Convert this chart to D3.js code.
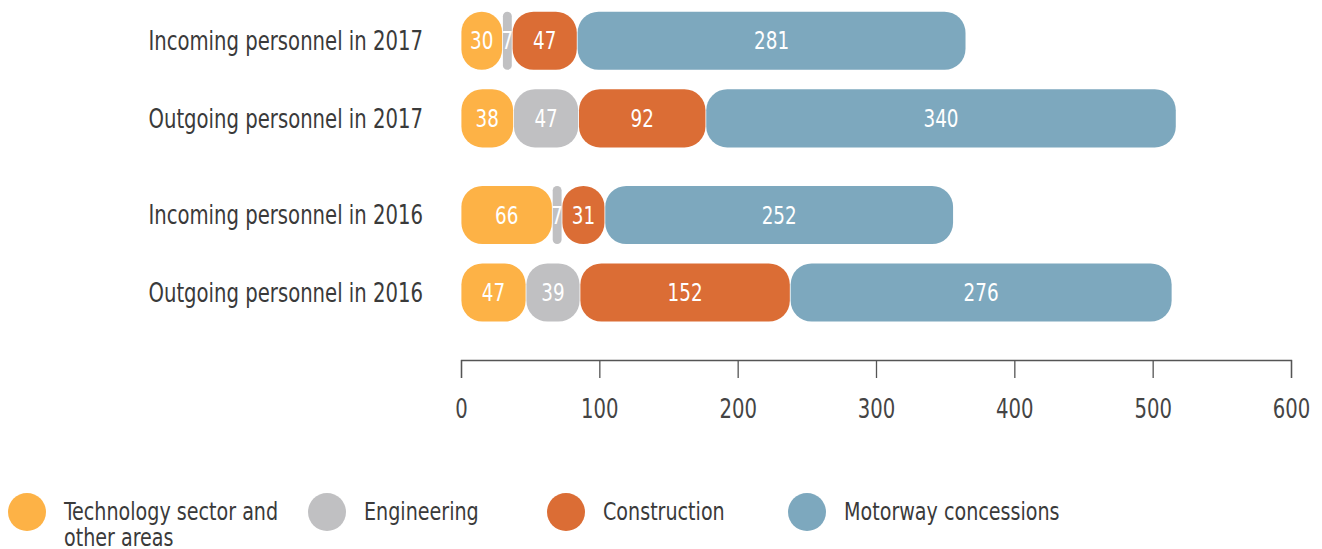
<!DOCTYPE html>
<html>
<head>
<meta charset="utf-8">
<script src="https://cdn.jsdelivr.net/npm/d3@7"></script>
<style>
  html, body { margin: 0; padding: 0; background: #ffffff; }
  svg { display: block; font-family: "DejaVu Sans Condensed", "DejaVu Sans", sans-serif; }
</style>
</head>
<body>
<svg id="chart" width="1322" height="549"></svg>
<script>
// ---- data ----
const categories = [
  "Incoming personnel in 2017",
  "Outgoing personnel in 2017",
  "Incoming personnel in 2016",
  "Outgoing personnel in 2016"
];
const rowGroups = ["2017", "2017", "2016", "2016"];
const rowTypes = ["Incoming", "Outgoing", "Incoming", "Outgoing"];
const seriesNames = ["Technology sector and other areas", "Engineering", "Construction", "Motorway concessions"];
const technology = [30, 38, 66, 47];
const engineering = [7, 47, 7, 39];
const construction = [47, 92, 31, 152];
const motorway = [281, 340, 252, 276];
const tickValues = [0, 100, 200, 300, 400, 500, 600];
const colors = ["#FDB246", "#C0C0C2", "#DB6D35", "#7DA8BE"];

// horizontal condensing of text to mimic the condensed original face
function condense(sel, k) {
  sel.each(function () {
    const w = this.getComputedTextLength();
    d3.select(this).attr("textLength", w * k).attr("lengthAdjust", "spacingAndGlyphs");
  });
}

// ---- build table ----
const table = categories.map((c, i) => ({
  category: c, group: rowGroups[i], type: rowTypes[i],
  tech: technology[i], eng: engineering[i], con: construction[i], mot: motorway[i]
}));
const keys = ["tech", "eng", "con", "mot"];
const stacked = d3.stack().keys(keys)(table);

const svg = d3.select("#chart");

const x = d3.scaleLinear().domain([0, 600]).range([461, 1291]);
const outer = d3.scaleBand().domain(["2017", "2016"]).range([11.7, 321.6]).paddingInner(0.221).paddingOuter(0);
const inner = d3.scaleBand().domain(["Incoming", "Outgoing"]).range([0, outer.bandwidth()]).paddingInner(0.25).paddingOuter(0);
const yTop = d => outer(d.group) + inner(d.type);
const bh = inner.bandwidth();

// ---- bars ----
const layers = svg.append("g").selectAll("g").data(stacked).join("g")
  .attr("fill", (d, i) => colors[i]);

const segW = d => Math.max(0, x(d[1]) - x(d[0]) - 0.8);
layers.selectAll("rect").data(d => d).join("rect")
  .attr("x", d => x(d[0]) + 0.4)
  .attr("y", d => yTop(d.data))
  .attr("width", segW)
  .attr("height", bh)
  .attr("rx", d => Math.min(21, segW(d) / 2))
  .attr("ry", d => Math.min(21, segW(d) / 2));

// value labels
layers.selectAll("text").data(d => d).join("text")
  .attr("x", d => (x(d[0]) + x(d[1])) / 2)
  .attr("y", d => yTop(d.data) + bh / 2)
  .attr("dy", "0.36em")
  .attr("text-anchor", "middle")
  .attr("fill", "#ffffff")
  .attr("font-size", 24)
  .text(d => d[1] - d[0])
  .call(condense, 0.85);

// row labels
svg.append("g").selectAll("text").data(table).join("text")
  .attr("x", 423)
  .attr("y", d => yTop(d) + bh / 2)
  .attr("dy", "0.36em")
  .attr("text-anchor", "end")
  .attr("fill", "#3a3a3a")
  .attr("font-size", 26)
  .text(d => d.category)
  .call(condense, 0.84);

// ---- axis ----
const axis = d3.axisBottom(x).tickValues(tickValues).tickSize(18).tickPadding(22).tickFormat(d3.format("d"));
const ax = svg.append("g").attr("transform", "translate(0,360)").call(axis);
ax.select(".domain").attr("stroke", "#555").attr("stroke-width", 1.3);
ax.selectAll(".tick line").attr("stroke", "#555").attr("stroke-width", 1.3);
ax.selectAll(".tick text").attr("fill", "#444").attr("font-size", 26)
  .style("font-family", "'DejaVu Sans Condensed', 'DejaVu Sans', sans-serif")
  .call(condense, 0.84);

// ---- legend ----
const legendX = [27, 327, 566, 807];
const legendLines = [["Technology sector and", "other areas"], ["Engineering"], ["Construction"], ["Motorway concessions"]];
const lg = svg.append("g").selectAll("g").data(seriesNames).join("g")
  .attr("transform", (d, i) => `translate(${legendX[i]},512)`);
lg.append("circle").attr("r", 19).attr("fill", (d, i) => colors[i]);
lg.selectAll("text").data((d, i) => legendLines[i]).join("text")
  .attr("x", 37).attr("y", (d, j) => 7.5 + j * 26)
  .attr("fill", "#3a3a3a").attr("font-size", 25)
  .text(d => d)
  .call(condense, 0.85);
</script>
</body>
</html>
